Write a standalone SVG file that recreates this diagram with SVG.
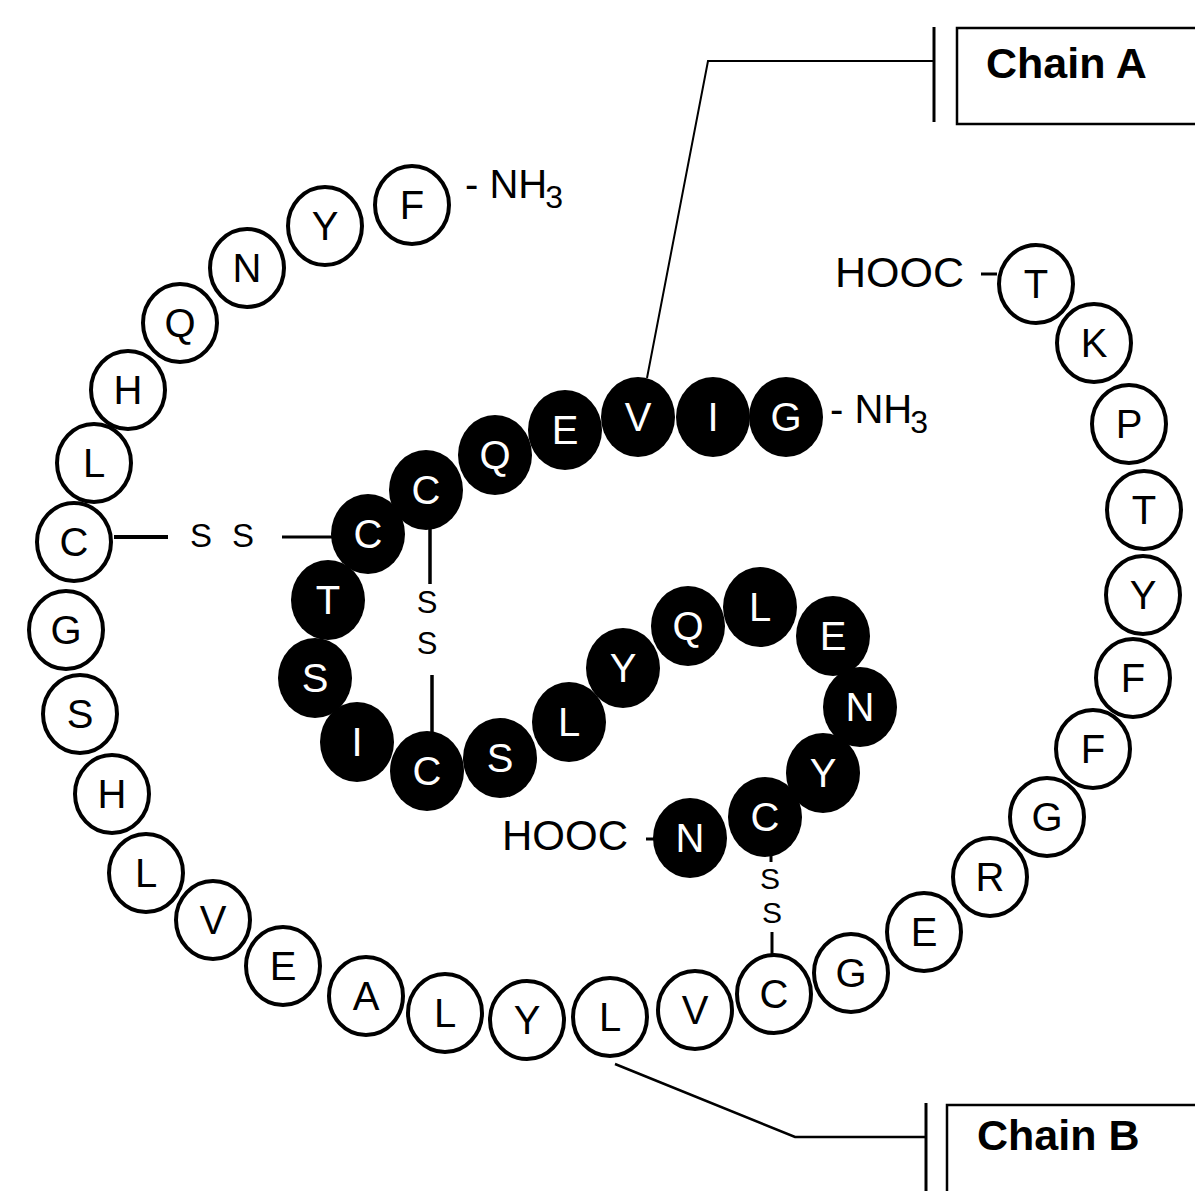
<svg xmlns="http://www.w3.org/2000/svg" width="1195" height="1191" viewBox="0 0 1195 1191">
<style>
.w ellipse{fill:#fff;stroke:#000;stroke-width:4}
.b ellipse{fill:#000}
.w text,.b text{font-family:"Liberation Sans",Arial,sans-serif;font-size:40px;text-anchor:middle}
.w text{fill:#000}
.b text{fill:#fff}
.lbl{font-family:"Liberation Sans",Arial,sans-serif;fill:#000}
.ln{stroke:#000;fill:none}
</style>
<rect width="1195" height="1191" fill="#fff"/>
<g id="connectors">
  <polyline class="ln" stroke-width="2" points="647,378 708,61 934,61"/>
  <line class="ln" stroke-width="3" x1="934" y1="27" x2="934" y2="122"/>
  <polyline class="ln" stroke-width="2.5" points="615,1064 795,1137 926,1137"/>
  <line class="ln" stroke-width="3" x1="926" y1="1103" x2="926" y2="1191"/>
  <line class="ln" stroke-width="4" x1="114" y1="537" x2="168" y2="537"/>
  <line class="ln" stroke-width="3" x1="282" y1="537" x2="332" y2="537"/>
  <line class="ln" stroke-width="3.5" x1="430" y1="522" x2="430" y2="584"/>
  <line class="ln" stroke-width="3.5" x1="432" y1="675" x2="432" y2="735"/>
  <line class="ln" stroke-width="3" x1="771" y1="850" x2="771" y2="862"/>
  <line class="ln" stroke-width="3" x1="772" y1="932" x2="772" y2="956"/>
  <line class="ln" stroke-width="3" x1="981" y1="274" x2="997" y2="274"/>
  <line class="ln" stroke-width="3" x1="646" y1="839" x2="656" y2="839"/>
</g>
<g id="labels">
  <g id="chainA">
    <rect x="957" y="28" width="260" height="96" fill="none" stroke="#000" stroke-width="2.5"/>
    <text class="lbl" x="986" y="78" font-size="43" font-weight="bold">Chain A</text>
  </g>
  <g id="chainB">
    <rect x="947" y="1105" width="270" height="120" fill="none" stroke="#000" stroke-width="2.5"/>
    <text class="lbl" x="977" y="1150" font-size="43" font-weight="bold">Chain B</text>
  </g>
  <text class="lbl" x="465" y="198" font-size="40">- NH<tspan font-size="32" dy="10" dx="-2">3</tspan></text>
  <text class="lbl" x="830" y="423" font-size="40">- NH<tspan font-size="32" dy="10" dx="-2">3</tspan></text>
  <text class="lbl" x="835" y="287" font-size="43">HOOC</text>
  <text class="lbl" x="502" y="850" font-size="42">HOOC</text>
  <text class="lbl" x="201" y="547" font-size="33" text-anchor="middle">S</text>
  <text class="lbl" x="243" y="547" font-size="33" text-anchor="middle">S</text>
  <text class="lbl" x="427" y="613" font-size="31" text-anchor="middle">S</text>
  <text class="lbl" x="427" y="654" font-size="31" text-anchor="middle">S</text>
  <text class="lbl" x="770" y="889" font-size="30" text-anchor="middle">S</text>
  <text class="lbl" x="772" y="923" font-size="30" text-anchor="middle">S</text>
</g>
<g id="chainB-residues" class="w">
  <g id="B1"><ellipse cx="412" cy="205" rx="37" ry="39"/><text x="412" y="205" dy=".36em">F</text></g>
  <g id="B2"><ellipse cx="325" cy="226" rx="37" ry="39"/><text x="325" y="226" dy=".36em">Y</text></g>
  <g id="B3"><ellipse cx="247" cy="268" rx="37" ry="39"/><text x="247" y="268" dy=".36em">N</text></g>
  <g id="B4"><ellipse cx="180" cy="323" rx="37" ry="39"/><text x="180" y="323" dy=".36em">Q</text></g>
  <g id="B5"><ellipse cx="128" cy="390" rx="37" ry="39"/><text x="128" y="390" dy=".36em">H</text></g>
  <g id="B6"><ellipse cx="94" cy="463" rx="37" ry="39"/><text x="94" y="463" dy=".36em">L</text></g>
  <g id="B7"><ellipse cx="74" cy="542" rx="37" ry="39"/><text x="74" y="542" dy=".36em">C</text></g>
  <g id="B8"><ellipse cx="66" cy="630" rx="37" ry="39"/><text x="66" y="630" dy=".36em">G</text></g>
  <g id="B9"><ellipse cx="80" cy="714" rx="37" ry="39"/><text x="80" y="714" dy=".36em">S</text></g>
  <g id="B10"><ellipse cx="112" cy="794" rx="37" ry="39"/><text x="112" y="794" dy=".36em">H</text></g>
  <g id="B11"><ellipse cx="146" cy="873" rx="37" ry="39"/><text x="146" y="873" dy=".36em">L</text></g>
  <g id="B12"><ellipse cx="213" cy="920" rx="37" ry="39"/><text x="213" y="920" dy=".36em">V</text></g>
  <g id="B13"><ellipse cx="283" cy="966" rx="37" ry="39"/><text x="283" y="966" dy=".36em">E</text></g>
  <g id="B14"><ellipse cx="366" cy="996" rx="37" ry="39"/><text x="366" y="996" dy=".36em">A</text></g>
  <g id="B15"><ellipse cx="445" cy="1013" rx="37" ry="39"/><text x="445" y="1013" dy=".36em">L</text></g>
  <g id="B16"><ellipse cx="527" cy="1020" rx="37" ry="39"/><text x="527" y="1020" dy=".36em">Y</text></g>
  <g id="B17"><ellipse cx="610" cy="1017" rx="37" ry="39"/><text x="610" y="1017" dy=".36em">L</text></g>
  <g id="B18"><ellipse cx="695" cy="1010" rx="37" ry="39"/><text x="695" y="1010" dy=".36em">V</text></g>
  <g id="B19"><ellipse cx="774" cy="994" rx="37" ry="39"/><text x="774" y="994" dy=".36em">C</text></g>
  <g id="B20"><ellipse cx="851" cy="973" rx="37" ry="39"/><text x="851" y="973" dy=".36em">G</text></g>
  <g id="B21"><ellipse cx="924" cy="932" rx="37" ry="39"/><text x="924" y="932" dy=".36em">E</text></g>
  <g id="B22"><ellipse cx="990" cy="877" rx="37" ry="39"/><text x="990" y="877" dy=".36em">R</text></g>
  <g id="B23"><ellipse cx="1047" cy="817" rx="37" ry="39"/><text x="1047" y="817" dy=".36em">G</text></g>
  <g id="B24"><ellipse cx="1093" cy="749" rx="37" ry="39"/><text x="1093" y="749" dy=".36em">F</text></g>
  <g id="B25"><ellipse cx="1133" cy="678" rx="37" ry="39"/><text x="1133" y="678" dy=".36em">F</text></g>
  <g id="B26"><ellipse cx="1143" cy="595" rx="37" ry="39"/><text x="1143" y="595" dy=".36em">Y</text></g>
  <g id="B27"><ellipse cx="1144" cy="510" rx="37" ry="39"/><text x="1144" y="510" dy=".36em">T</text></g>
  <g id="B28"><ellipse cx="1129" cy="424" rx="37" ry="39"/><text x="1129" y="424" dy=".36em">P</text></g>
  <g id="B29"><ellipse cx="1094" cy="343" rx="37" ry="39"/><text x="1094" y="343" dy=".36em">K</text></g>
  <g id="B30"><ellipse cx="1036" cy="284" rx="37" ry="39"/><text x="1036" y="284" dy=".36em">T</text></g>
</g>
<g id="chainA-residues" class="b">
  <g id="A1"><ellipse cx="786" cy="417" rx="37" ry="40"/><text x="786" y="417" dy=".36em">G</text></g>
  <g id="A2"><ellipse cx="713" cy="417" rx="37" ry="40"/><text x="713" y="417" dy=".36em">I</text></g>
  <g id="A3"><ellipse cx="638" cy="417" rx="37" ry="40"/><text x="638" y="417" dy=".36em">V</text></g>
  <g id="A4"><ellipse cx="565" cy="430" rx="37" ry="40"/><text x="565" y="430" dy=".36em">E</text></g>
  <g id="A5"><ellipse cx="495" cy="455" rx="37" ry="40"/><text x="495" y="455" dy=".36em">Q</text></g>
  <g id="A6"><ellipse cx="426" cy="490" rx="37" ry="40"/><text x="426" y="490" dy=".36em">C</text></g>
  <g id="A7"><ellipse cx="368" cy="534" rx="37" ry="40"/><text x="368" y="534" dy=".36em">C</text></g>
  <g id="A8"><ellipse cx="328" cy="600" rx="37" ry="40"/><text x="328" y="600" dy=".36em">T</text></g>
  <g id="A9"><ellipse cx="315" cy="678" rx="37" ry="40"/><text x="315" y="678" dy=".36em">S</text></g>
  <g id="A10"><ellipse cx="357" cy="742" rx="37" ry="40"/><text x="357" y="742" dy=".36em">I</text></g>
  <g id="A11"><ellipse cx="427" cy="771" rx="37" ry="40"/><text x="427" y="771" dy=".36em">C</text></g>
  <g id="A12"><ellipse cx="500" cy="758" rx="37" ry="40"/><text x="500" y="758" dy=".36em">S</text></g>
  <g id="A13"><ellipse cx="569" cy="722" rx="37" ry="40"/><text x="569" y="722" dy=".36em">L</text></g>
  <g id="A14"><ellipse cx="623" cy="668" rx="37" ry="40"/><text x="623" y="668" dy=".36em">Y</text></g>
  <g id="A15"><ellipse cx="688" cy="626" rx="37" ry="40"/><text x="688" y="626" dy=".36em">Q</text></g>
  <g id="A16"><ellipse cx="760" cy="607" rx="37" ry="40"/><text x="760" y="607" dy=".36em">L</text></g>
  <g id="A17"><ellipse cx="833" cy="636" rx="37" ry="40"/><text x="833" y="636" dy=".36em">E</text></g>
  <g id="A18"><ellipse cx="860" cy="707" rx="37" ry="40"/><text x="860" y="707" dy=".36em">N</text></g>
  <g id="A19"><ellipse cx="823" cy="773" rx="37" ry="40"/><text x="823" y="773" dy=".36em">Y</text></g>
  <g id="A20"><ellipse cx="765" cy="817" rx="37" ry="40"/><text x="765" y="817" dy=".36em">C</text></g>
  <g id="A21"><ellipse cx="690" cy="838" rx="37" ry="40"/><text x="690" y="838" dy=".36em">N</text></g>
</g>
</svg>
